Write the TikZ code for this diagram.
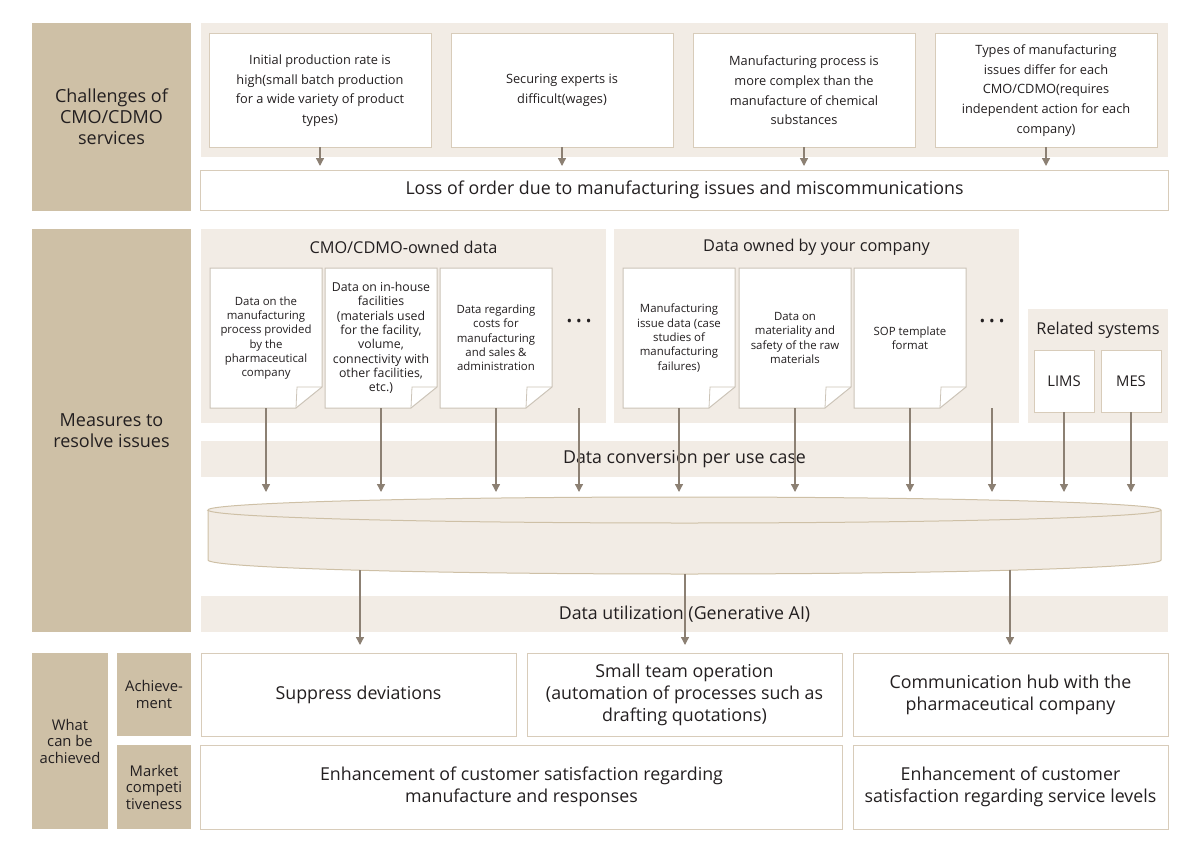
\documentclass[tikz,border=0pt]{standalone}
\usepackage{fontspec}
\setmainfont{Open Sans}
\usepackage{tikz}
\usetikzlibrary{positioning}
\usetikzlibrary{arrows.meta}

\definecolor{tan}{RGB}{206,192,166}
\definecolor{bandc}{RGB}{242,236,229}
\definecolor{boxline}{RGB}{216,204,186}
\definecolor{docline}{RGB}{204,196,184}
\definecolor{arrowc}{RGB}{140,128,115}
\definecolor{ink}{RGB}{35,31,32}

\newcommand{\fbig}{\fontsize{17.8bp}{22bp}\selectfont}
\newcommand{\flab}{\fontsize{18bp}{21bp}\selectfont}
\newcommand{\fmid}{\fontsize{16.3bp}{20bp}\selectfont}
\newcommand{\fchal}{\fontsize{12.8bp}{19.6bp}\selectfont}
\newcommand{\fside}{\fontsize{14.8bp}{16.5bp}\selectfont}
\newcommand{\fdoc}{\fontsize{11.4bp}{14.3bp}\selectfont}

\tikzstyle{arrow} = [draw=arrowc, line width=1.3bp, -{Triangle[width=8bp,length=8bp]}]
\tikzstyle{lbl} = [fill=tan, inner sep=0pt, outer sep=0pt, align=center, text=ink]
\tikzstyle{band} = [fill=bandc, inner sep=0pt, outer sep=0pt]
\tikzstyle{box} = [draw=boxline, fill=white, line width=1bp, inner sep=0pt, outer sep=0pt, align=center, text=ink]
\tikzstyle{doc} = [minimum width=112bp, minimum height=140bp, inner sep=0pt, align=center, font=\fdoc, text=ink]
\tikzstyle{dots} = [inner sep=0pt, font=\fontsize{15bp}{15bp}\selectfont, text=ink]

\begin{document}
\begin{tikzpicture}[x=1bp,y=-1bp]
	\useasboundingbox (0,0) rectangle (1200,850);

	%Left labels
	\node[lbl, minimum width=159bp, minimum height=188bp, font=\flab] (chal) at (111.5,117) {Challenges of\\CMO/CDMO\\services};
	\node[lbl, minimum width=159bp, minimum height=403bp, font=\flab] (meas) at (111.5,430.5) {Measures to\\resolve issues};
	\node[lbl, minimum width=76bp, minimum height=176bp, font=\fside] (what) at (70,741) {What\\can be\\achieved};
	\node[lbl, minimum width=74bp, minimum height=83bp, font=\fside] (achv) at (154,694.5) {Achieve-\\ment};
	\node[lbl, minimum width=74bp, minimum height=84bp, font=\fside] (mkt) at (154,787) {Market\\competi\\tiveness};

	%Challenges
	\node[band, minimum width=967bp, minimum height=134bp] (chband) at (684.5,90) {};
	\node[box, minimum width=222bp, minimum height=113bp, font=\fchal] (c1) at (320,90.5) {Initial production rate is\\high(small batch production\\for a wide variety of product\\types)};
	\node[box, minimum width=222bp, minimum height=113bp, font=\fchal] (c2) at (562,90.5) {Securing experts is\\difficult(wages)};
	\node[box, minimum width=222bp, minimum height=113bp, font=\fchal] (c3) at (804,90.5) {Manufacturing process is\\more complex than the\\manufacture of chemical\\substances};
	\node[box, minimum width=222bp, minimum height=113bp, font=\fchal] (c4) at (1046,90.5) {Types of manufacturing\\issues differ for each\\CMO/CDMO(requires\\independent action for each\\company)};
	\node[box, minimum width=967bp, minimum height=40bp, font=\fbig] (loss) at (684.5,190) {Loss of order due to manufacturing issues and miscommunications};

	\foreach \n in {c1,c2,c3,c4}
		\draw[arrow, shorten >=4bp] (\n.south) -- (\n.south |- loss.north);

	%Data panels
	\node[band, minimum width=405bp, minimum height=194bp] (cmo) at (403.5,326) {};
	\node[font=\fmid, text=ink] (cmot) at (403.5,247) {CMO/CDMO-owned data};
	\node[band, minimum width=405bp, minimum height=194bp] (own) at (816.5,326) {};
	\node[font=\fmid, text=ink] (ownt) at (816.5,247) {Data owned by your company};
	\node[band, minimum width=140bp, minimum height=114bp] (rel) at (1098,366) {};
	\node[font=\fmid, text=ink] (relt) at (1098,330) {Related systems};

	%Document pages
	\foreach \cx in {266,381,496,679,795,910} {
		\filldraw[fill=white, draw=docline, line width=1bp] (\cx-56,268) -- (\cx+56,268) -- (\cx+56,387) -- (\cx+30,408) -- (\cx-56,408) -- cycle;
		\draw[docline, line width=0.8bp] (\cx+56,387) -- (\cx+31,387) -- (\cx+30,408);
	}
	\node[doc] (d1) at (266,338) {Data on the\\manufacturing\\process provided\\by the\\pharmaceutical\\company};
	\node[doc, font=\fontsize{12.3bp}{14.3bp}\selectfont] (d2) at (381,338) {Data on in-house\\facilities\\(materials used\\for the facility,\\volume,\\connectivity with\\other facilities,\\etc.)};
	\node[doc] (d3) at (496,338) {Data regarding\\costs for\\manufacturing\\and sales \&\\administration};
	\node[dots] (dotsA) at (579,323) {\textbullet\hspace{4bp}\textbullet\hspace{4bp}\textbullet};
	\node[doc] (d4) at (679,338) {Manufacturing\\issue data (case\\studies of\\manufacturing\\failures)};
	\node[doc] (d5) at (795,338) {Data on\\materiality and\\safety of the raw\\materials};
	\node[doc] (d6) at (910,338) {SOP template\\format};
	\node[dots] (dotsB) at (992,323) {\textbullet\hspace{4bp}\textbullet\hspace{4bp}\textbullet};

	\node[box, minimum width=60bp, minimum height=62bp, font=\fside] (lims) at (1064,381) {LIMS};
	\node[box, minimum width=60bp, minimum height=62bp, font=\fside] (mes) at (1131,381) {MES};

	%Conversion and storage
	\node[band, minimum width=967bp, minimum height=36bp, font=\fbig, text=ink] (conv) at (684.5,459) {Data conversion per use case};
	\coordinate (tip) at (0,492);

	\filldraw[fill=bandc, draw=tan, line width=1bp] (208,510) -- (208,560) arc[start angle=180, end angle=360, x radius=476.5bp, y radius=14bp] -- (1161,510) arc[start angle=0, end angle=180, x radius=476.5bp, y radius=13bp] -- cycle;
	\draw[tan, line width=1bp] (208,510) arc[start angle=180, end angle=360, x radius=476.5bp, y radius=13bp];

	\foreach \n in {d1,d2,d3,d4,d5,d6,lims,mes}
		\draw[arrow] (\n.south) -- (\n.south |- tip);
	\draw[arrow] (dotsA |- d1.south) -- (dotsA |- tip);
	\draw[arrow] (dotsB |- d1.south) -- (dotsB |- tip);

	%Utilization
	\node[band, minimum width=967bp, minimum height=36bp, font=\fbig, text=ink] (util) at (684.5,614) {Data utilization (Generative AI)};

	%Achievements
	\node[box, minimum width=315bp, minimum height=83bp, font=\fbig] (sup) at (358.5,694.5) {Suppress deviations};
	\node[box, minimum width=315bp, minimum height=83bp, font=\fbig] (team) at (684.5,694.5) {Small team operation\\(automation of processes such as\\drafting quotations)};
	\node[box, minimum width=315bp, minimum height=83bp, font=\fbig] (hub) at (1010.5,694.5) {Communication hub with the\\pharmaceutical company};
	\node[box, minimum width=641bp, minimum height=84bp, font=\fbig] (enh1) at (521.5,787) {Enhancement of customer satisfaction regarding\\manufacture and responses};
	\node[box, minimum width=315bp, minimum height=84bp, font=\fbig] (enh2) at (1010.5,787) {Enhancement of customer\\satisfaction regarding service levels};

	\coordinate (out1) at (360,570);
	\coordinate (out2) at (685,574);
	\coordinate (out3) at (1010,570);
	\draw[arrow, shorten >=8bp] (out1) -- (out1 |- sup.north);
	\draw[arrow, shorten >=8bp] (out2) -- (out2 |- team.north);
	\draw[arrow, shorten >=8bp] (out3) -- (out3 |- hub.north);

\end{tikzpicture}
\end{document}
